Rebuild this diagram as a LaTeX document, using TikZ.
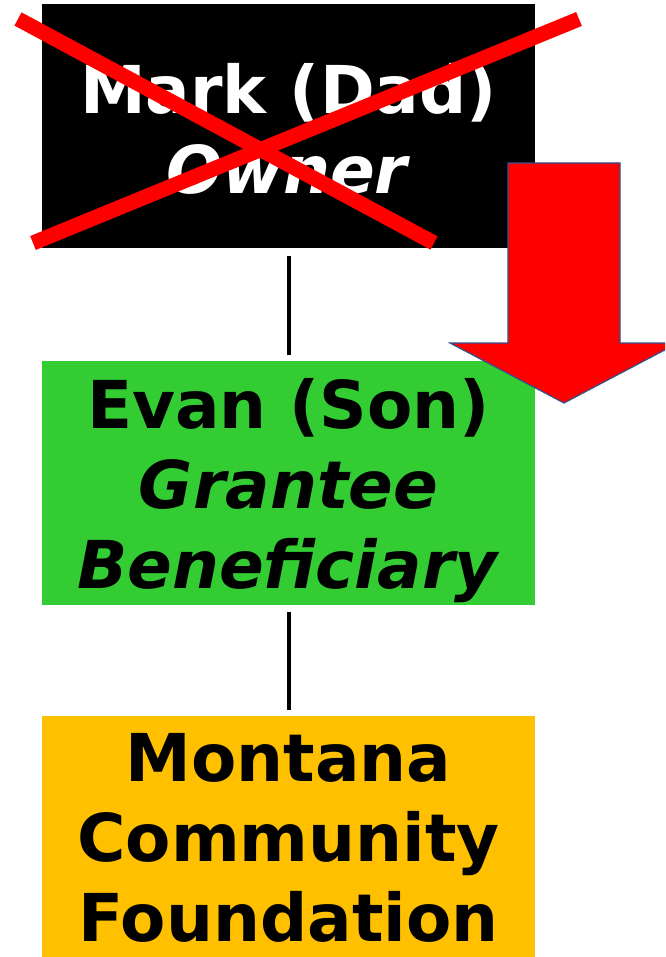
\documentclass[tikz,border=0pt]{standalone}
\usepackage{fontspec}
\setmainfont{DejaVu Sans}
\definecolor{boxgreen}{HTML}{33CC33}
\definecolor{boxorange}{HTML}{FFC000}
\definecolor{arrowedge}{HTML}{2F528F}

\begin{document}
\begin{tikzpicture}[x=1pt, y=-1pt, every node/.style={minimum width=493pt, minimum height=244pt, inner sep=0pt, align=center, font=\fontsize{66}{80}\selectfont\bfseries}, link/.style={line width=4pt, shorten <=7pt, shorten >=5pt}, cross/.style={red, line width=15pt}]
    \clip (0,0) rectangle (665,957);

    \node[fill=black, text=white, text height=134pt] (dad) at (288.5,126.5) {Mark (Dad)\\\textit{Owner}};
    \node[fill=boxgreen, text height=226pt] (son) at (288.5,482.5) {Evan (Son)\\\textit{Grantee}\\\textit{Beneficiary}};
    \node[fill=boxorange] (mcf) at (288.5,837.5) {Montana\\Community\\Foundation};

    \draw[link] (dad) -- (son);
    \draw[link] (son) -- (mcf);

    \draw[cross] (18,19) -- (434,243);
    \draw[cross] (33,243) -- (579,19);

    \filldraw[fill=red, draw=arrowedge, line width=1.2pt] (508,163) -- (620,163) -- (620,343) -- (678,343) -- (564,403) -- (450,343) -- (508,343) -- cycle;
\end{tikzpicture}
\end{document}
